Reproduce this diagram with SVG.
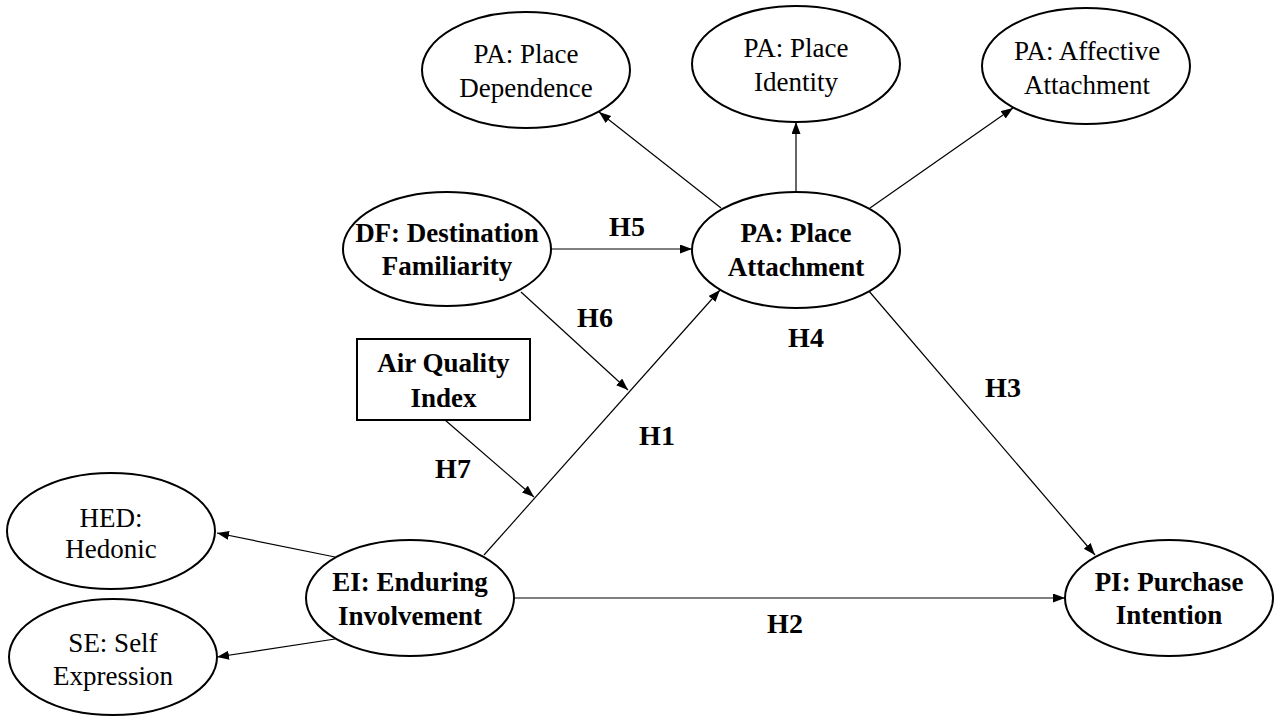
<svg xmlns="http://www.w3.org/2000/svg" width="1276" height="716" viewBox="0 0 1276 716">
<style>
.node ellipse, .node rect { fill: #fff; stroke: #000; stroke-width: 2; }
.t { font-family: "Liberation Serif", "Times New Roman", serif; font-size: 27px; fill: #000; text-anchor: middle; }
.b { font-weight: bold; }
.h { font-family: "Liberation Serif", "Times New Roman", serif; font-size: 28px; font-weight: bold; fill: #000; text-anchor: middle; }
.conn line { stroke: #000; stroke-width: 1.2; fill: none; marker-end: url(#arr); }
</style>
<defs>
<marker id="arr" markerUnits="userSpaceOnUse" markerWidth="13" markerHeight="10" refX="12" refY="4.5" orient="auto">
<path d="M0,0 L12,4.5 L0,9 z" fill="#000"/>
</marker>
</defs>
<rect width="1276" height="716" fill="#fff"/>
<g id="connectors" class="conn">
<line x1="335" y1="557" x2="217" y2="533"/>
<line x1="335" y1="639" x2="217" y2="657"/>
<line x1="484" y1="555" x2="720" y2="290"/>
<line x1="513" y1="598" x2="1065" y2="598"/>
<line x1="868" y1="290" x2="1095" y2="555"/>
<line x1="551" y1="249" x2="692" y2="249"/>
<line x1="521" y1="292" x2="628" y2="390"/>
<line x1="445" y1="420" x2="534" y2="497"/>
<line x1="721" y1="208" x2="599" y2="112"/>
<line x1="796" y1="192" x2="796" y2="122"/>
<line x1="870" y1="208" x2="1013" y2="108"/>
</g>
<g id="labels">
<text class="h" x="627" y="236">H5</text>
<text class="h" x="595" y="327">H6</text>
<text class="h" x="453" y="478">H7</text>
<text class="h" x="657" y="445">H1</text>
<text class="h" x="806" y="347">H4</text>
<text class="h" x="1003" y="397">H3</text>
<text class="h" x="785" y="633">H2</text>
</g>
<g id="pa-dependence" class="node">
<ellipse cx="526" cy="70" rx="104" ry="58"/>
<text class="t" x="526" y="63">PA: Place</text>
<text class="t" x="526" y="97">Dependence</text>
</g>
<g id="pa-identity" class="node">
<ellipse cx="796" cy="64" rx="104" ry="58"/>
<text class="t" x="796" y="57">PA: Place</text>
<text class="t" x="796" y="91">Identity</text>
</g>
<g id="pa-affective" class="node">
<ellipse cx="1086" cy="66" rx="104" ry="58"/>
<text class="t" x="1087" y="60">PA: Affective</text>
<text class="t" x="1087" y="94">Attachment</text>
</g>
<g id="pa-place-attachment" class="node">
<ellipse cx="796" cy="250" rx="104" ry="58"/>
<text class="t b" x="796" y="242">PA: Place</text>
<text class="t b" x="796" y="276">Attachment</text>
</g>
<g id="df" class="node">
<ellipse cx="447" cy="249" rx="104" ry="57"/>
<text class="t b" x="447" y="242">DF: Destination</text>
<text class="t b" x="447" y="275">Familiarity</text>
</g>
<g id="aqi" class="node">
<rect x="357" y="339" width="173" height="81"/>
<text class="t b" x="443.5" y="372">Air Quality</text>
<text class="t b" x="443.5" y="407">Index</text>
</g>
<g id="hed" class="node">
<ellipse cx="111" cy="531" rx="104" ry="58"/>
<text class="t" x="111" y="527">HED:</text>
<text class="t" x="111" y="558">Hedonic</text>
</g>
<g id="se" class="node">
<ellipse cx="113" cy="657" rx="104" ry="58"/>
<text class="t" x="113" y="652">SE: Self</text>
<text class="t" x="113" y="685">Expression</text>
</g>
<g id="ei" class="node">
<ellipse cx="410" cy="598" rx="104" ry="58"/>
<text class="t b" x="410" y="591">EI: Enduring</text>
<text class="t b" x="410" y="625">Involvement</text>
</g>
<g id="pi" class="node">
<ellipse cx="1169" cy="598" rx="104" ry="58"/>
<text class="t b" x="1169" y="591">PI: Purchase</text>
<text class="t b" x="1169" y="624">Intention</text>
</g>
</svg>
